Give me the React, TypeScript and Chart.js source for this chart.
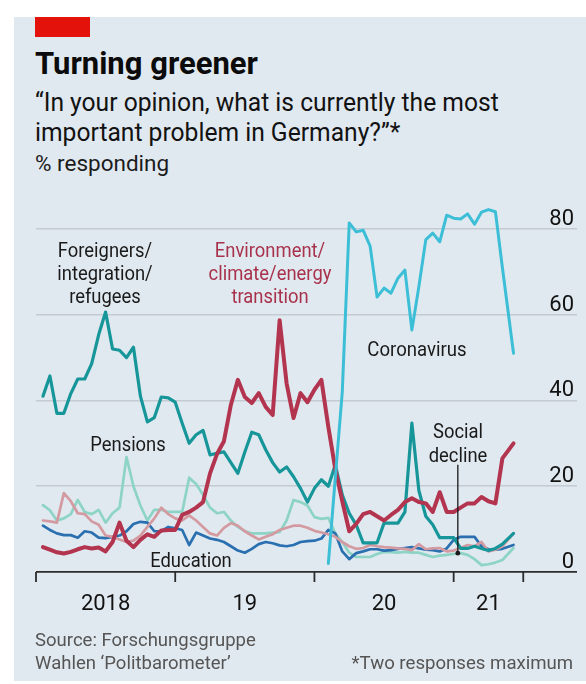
import { useEffect, useRef } from 'react';
import { Chart, registerables } from 'chart.js';

Chart.register(...registerables);

// Politbarometer survey dates (decimal years)
const surveyDates = [
  2018.05, 2018.1, 2018.15, 2018.2, 2018.25, 2018.3, 2018.35, 2018.4, 2018.45, 2018.5,
  2018.55, 2018.6, 2018.65, 2018.7, 2018.75, 2018.8, 2018.85, 2018.9, 2018.95, 2019.0,
  2019.05, 2019.1, 2019.15, 2019.2, 2019.25, 2019.3, 2019.35, 2019.4, 2019.45, 2019.5,
  2019.55, 2019.6, 2019.65, 2019.7, 2019.75, 2019.8, 2019.85, 2019.9, 2019.95, 2020.0,
  2020.05, 2020.1, 2020.15, 2020.2, 2020.25, 2020.3, 2020.35, 2020.4, 2020.45, 2020.5,
  2020.55, 2020.6, 2020.65, 2020.7, 2020.75, 2020.8, 2020.85, 2020.9, 2020.95, 2021.0,
  2021.05, 2021.1, 2021.15, 2021.2, 2021.25, 2021.3, 2021.35, 2021.43,
];

const foreigners = [
  41, 45.7, 37, 37, 41.6, 45, 45, 48.6, 55.3, 60.6,
  52, 51.7, 50, 52.4, 41, 35, 36, 40.8, 40.6, 39.6,
  34.7, 30, 32, 33, 27.3, 27.7, 28, 25.5, 23, 28,
  32.6, 32, 28.5, 25.5, 23.3, 24.5, 22.2, 19.5, 16.3, 19.5,
  21.5, 20, 25, 18, 13.7, 11, 6.8, 6.8, 6.8, 11.4,
  11.4, 11.4, 14, 34.7, 19, 13, 11, 8, 8, 8,
  5.5, 5.5, 6, 5.5, 5, 5.5, 6.5, 9,
];

const environment = [
  5.8, 5.2, 4.6, 4.3, 4.7, 5.3, 5.8, 5.5, 5.7, 4.8,
  7, 11.5, 7.3, 5.8, 7.5, 8.8, 8.2, 9.7, 9.8, 9.8,
  13.3, 14, 15, 16.3, 23, 27.5, 30.5, 39, 44.8, 40.8,
  39.4, 41.7, 38.5, 36.6, 58.7, 44, 35.9, 41.7, 39.6, 42.5,
  44.8, 33.8, 24, 16.5, 9.5, 11.2, 13.5, 14, 13, 12,
  13.3, 14.5, 16.3, 17.2, 16.3, 16, 14, 18.6, 14, 14,
  15, 16, 16, 17.5, 16.5, 16, 26.5, 30,
];

const coronavirus = [
  null, null, null, null, null, null, null, null, null, null,
  null, null, null, null, null, null, null, null, null, null,
  null, null, null, null, null, null, null, null, null, null,
  null, null, null, null, null, null, null, null, null, null,
  null, 2, 22, 42, 81.4, 79.3, 79.7, 76, 64.1, 66.2,
  65, 68.5, 70.4, 56.4, 66.5, 77.5, 79, 77, 83.2, 82.5,
  82.3, 83.5, 81.1, 83.9, 84.5, 84, 71, 51,
];

const pensions = [
  15.6, 14.4, 12, 12.5, 13.5, 16.8, 14, 13.5, 14.5, 11.5,
  13.7, 15, 26.8, 20, 15.5, 12, 14.5, 14.5, 14, 14,
  14, 22, 20.5, 18, 15, 13.7, 14, 12, 10.5, 9.5,
  9, 9, 9, 9.2, 9.3, 12, 16.8, 16.3, 15.5, 12.8,
  12.4, 12.6, 9, 7, 4.5, 3.5, 3.5, 3.5, 4.2, 4.7,
  4.6, 4.5, 4.7, 4.5, 4.5, 4, 3.5, 3.8, 4, 4.2,
  4.4, 4, 3, 1.6, 1.8, 2.2, 2.8, 5.6,
];

const socialDecline = [
  12, 11.8, 11.5, 18.4, 16.5, 13.7, 13.5, 11.8, 11, 8.5,
  8.2, 7.6, 7, 7.3, 8.5, 10.5, 12.5, 15, 13.5, 12.5,
  12, 13.2, 12, 10.5, 9, 8.5, 10.3, 11.4, 10.8, 9.5,
  8.5, 7.6, 8.2, 8.8, 9.8, 10.3, 10.8, 10.8, 10.3, 9.6,
  9.2, 8.8, 8.2, 7, 6, 5.4, 5.6, 6.3, 6, 5.8,
  5.7, 5.5, 5.4, 5.1, 6.5, 5.3, 5.5, 5.6, 4.8, 5,
  5.6, 6.3, 6, 7, 4.8, 5.2, 6, 9,
];

const education = [
  10.8, 9.8, 9, 8.6, 8.6, 8, 9.5, 9.2, 8, 7.9,
  8.2, 8.5, 9.5, 11.2, 11.7, 11.5, 9.5, 9.5, 10.5, 10.2,
  9.8, 6.3, 9.2, 8.5, 7.8, 7.5, 7, 6, 5, 4.5,
  5.4, 6.5, 7, 6.7, 6.2, 6, 6.3, 7, 7.2, 7.3,
  7.8, 9.8, 9, 4.8, 3, 4.4, 4.8, 5.3, 5.3, 5,
  5.1, 5.4, 5.6, 5.8, 5.5, 5.2, 5.1, 4.8, 5.5, 7.5,
  8.2, 8.2, 8.2, 6, 5.3, 5.2, 5.4, 6.3,
];

const yearBoundaries = [2018, 2019, 2020, 2021, 2021.5];
const yearLabels = ['2018', '19', '20', '21'];
const yearLabelCentres = [2018.5, 2019.5, 2020.5, 2021.25];
const yTickValues = [0, 20, 40, 60, 80];
const socialDeclinePointer = { date: 2021.03, from: 25, to: 4.4 };

const FONT = 'Roboto, "Open Sans", sans-serif';
const PANEL = '#e1e9f0';

type TxtProps = {
  x: number;
  baseline: number;
  size: number;
  text: string;
  color?: string;
  weight?: number;
  align?: 'left' | 'center' | 'right';
  squeeze?: number;
};

function Txt({ x, baseline, size, text, color = '#121212', weight = 400, align = 'left', squeeze = 1 }: TxtProps) {
  const lh = size * 1.2;
  const top = baseline - 0.942 * size;
  const origin = align === 'left' ? 'left' : align === 'right' ? 'right' : 'center';
  const style: any = {
    position: 'absolute',
    top,
    whiteSpace: 'nowrap',
    fontFamily: FONT,
    fontSize: size,
    lineHeight: `${lh}px`,
    fontWeight: weight,
    color,
    transform: `scaleX(${squeeze})`,
    transformOrigin: `${origin} center`,
  };
  if (align === 'left') style.left = x;
  else if (align === 'right') style.right = 586 - x;
  else {
    style.left = x - 200;
    style.width = 400;
    style.textAlign = 'center';
  }
  return <div style={style}>{text}</div>;
}

export default function App() {
  const ref = useRef<HTMLCanvasElement>(null);

  useEffect(() => {
    const canvas = ref.current;
    if (!canvas) return;
    const toPts = (vals: (number | null)[]) => vals.map((v, i) => ({ x: surveyDates[i], y: v }));

    const axisPlugin = {
      id: 'econAxis',
      afterDraw(chart: any) {
        const { ctx, scales } = chart;
        const xs = scales.x;
        const ys = scales.y;
        const y0 = ys.getPixelForValue(0);
        ctx.save();
        ctx.strokeStyle = '#2b2b2b';
        ctx.lineWidth = 1.8;
        yearBoundaries.forEach((v) => {
          const px = xs.getPixelForValue(v);
          ctx.beginPath();
          ctx.moveTo(px, y0);
          ctx.lineTo(px, y0 + 10);
          ctx.stroke();
        });
        ctx.fillStyle = '#121212';
        ctx.font = `22px ${FONT}`;
        ctx.textAlign = 'center';
        ctx.textBaseline = 'alphabetic';
        yearLabels.forEach((t, i) => {
          ctx.fillText(t, xs.getPixelForValue(yearLabelCentres[i]), y0 + 38);
        });
        ctx.textAlign = 'right';
        yTickValues.forEach((v) => {
          ctx.fillText(String(v), chart.chartArea.right - 3, ys.getPixelForValue(v) - 4);
        });
        // Social decline pointer
        const px = xs.getPixelForValue(socialDeclinePointer.date);
        ctx.strokeStyle = '#1a1a1a';
        ctx.lineWidth = 1.3;
        ctx.beginPath();
        ctx.moveTo(px, ys.getPixelForValue(socialDeclinePointer.from));
        ctx.lineTo(px, ys.getPixelForValue(socialDeclinePointer.to));
        ctx.stroke();
        ctx.fillStyle = '#1a1a1a';
        ctx.beginPath();
        ctx.arc(px, ys.getPixelForValue(socialDeclinePointer.to), 2.4, 0, Math.PI * 2);
        ctx.fill();
        ctx.restore();
      },
    };

    const line = (label: string, data: (number | null)[], color: string, width: number, order: number, extra: any = {}) => ({
      label,
      data: toPts(data),
      borderColor: color,
      backgroundColor: color,
      borderWidth: width,
      pointRadius: 0,
      tension: 0,
      borderJoinStyle: 'round',
      borderCapStyle: 'round',
      fill: false,
      order,
      ...extra,
    });

    const chart = new Chart(canvas, {
      type: 'line',
      data: {
        datasets: [
          line('Coronavirus', coronavirus, '#3cbfd6', 3, 0, { spanGaps: true }),
          line('Environment/climate/energy transition', environment, '#b3344f', 4, 1),
          line('Foreigners/integration/refugees', foreigners, '#17969a', 3.2, 2),
          line('Social decline', socialDecline, '#d49aa1', 2.7, 3),
          line('Education', education, '#2a6fb0', 2.7, 4),
          line('Pensions', pensions, '#8dd4c4', 2.7, 5),
        ] as any,
      },
      options: {
        animation: false,
        responsive: false,
        devicePixelRatio: 1,
        events: [],
        layout: { padding: { left: 36, right: 9, top: 16, bottom: 58 } },
        plugins: { legend: { display: false }, tooltip: { enabled: false } },
        scales: {
          x: { type: 'linear', min: 2018, max: 2021.886, display: false },
          y: {
            position: 'right',
            min: 0,
            max: 90,
            border: { display: false },
            grid: {
              drawTicks: false,
              color: (c: any) => (c.tick && c.tick.value === 0 ? '#2b2b2b' : '#c3cad1'),
              lineWidth: (c: any) => (c.tick && c.tick.value === 0 ? 1.8 : 1.5),
            },
            ticks: { display: false, stepSize: 20 },
            afterBuildTicks: (axis: any) => {
              axis.ticks = axis.ticks.filter((t: any) => t.value % 20 === 0);
            },
          },
        },
      } as any,
      plugins: [axisPlugin],
    });
    return () => chart.destroy();
  }, []);

  return (
    <div style={{ position: 'absolute', left: 0, top: 0, width: 586, height: 684, background: '#fff', overflow: 'hidden' }}>
      <div style={{ position: 'absolute', left: 14, top: 17, right: 0, bottom: 3, background: PANEL }} />
      <div style={{ position: 'absolute', left: 35, top: 17, width: 55, height: 20, background: '#e3120b' }} />
      <Txt x={35} baseline={74} size={31} weight={700} text="Turning greener" color="#0b0b0b" />
      <Txt x={35} baseline={112} size={25} text="“In your opinion, what is currently the most" squeeze={0.985} />
      <Txt x={35} baseline={142} size={25} text="important problem in Germany?”*" squeeze={0.985} />
      <Txt x={35} baseline={171} size={22.5} text="% responding" color="#1c1c1c" />

      <canvas ref={ref} width={586} height={460} style={{ position: 'absolute', left: 0, top: 170, width: 586, height: 460 }} />

      <Txt x={105} baseline={257} size={20} align="center" squeeze={0.92} text="Foreigners/" color="#1a1a1a" />
      <Txt x={105} baseline={280} size={20} align="center" squeeze={0.92} text="integration/" color="#1a1a1a" />
      <Txt x={105} baseline={303} size={20} align="center" squeeze={0.92} text="refugees" color="#1a1a1a" />
      <Txt x={270} baseline={257} size={20} align="center" squeeze={0.92} text="Environment/" color="#a8324b" />
      <Txt x={270} baseline={280} size={20} align="center" squeeze={0.92} text="climate/energy" color="#a8324b" />
      <Txt x={270} baseline={303} size={20} align="center" squeeze={0.92} text="transition" color="#a8324b" />
      <Txt x={417} baseline={356} size={20} align="center" squeeze={0.93} text="Coronavirus" color="#1a1a1a" />
      <Txt x={128} baseline={451} size={20} align="center" squeeze={0.92} text="Pensions" color="#1a1a1a" />
      <Txt x={191} baseline={567} size={20} align="center" squeeze={0.92} text="Education" color="#1a1a1a" />
      <Txt x={458} baseline={438} size={20} align="center" squeeze={0.92} text="Social" color="#1a1a1a" />
      <Txt x={458} baseline={462} size={20} align="center" squeeze={0.92} text="decline" color="#1a1a1a" />

      <Txt x={35} baseline={647} size={19} squeeze={0.975} text="Source: Forschungsgruppe" color="#555" />
      <Txt x={35} baseline={670} size={19} squeeze={0.975} text="Wahlen ‘Politbarometer’" color="#555" />
      <Txt x={573} baseline={670} size={19} align="right" squeeze={0.98} text="*Two responses maximum" color="#555" />
    </div>
  );
}
